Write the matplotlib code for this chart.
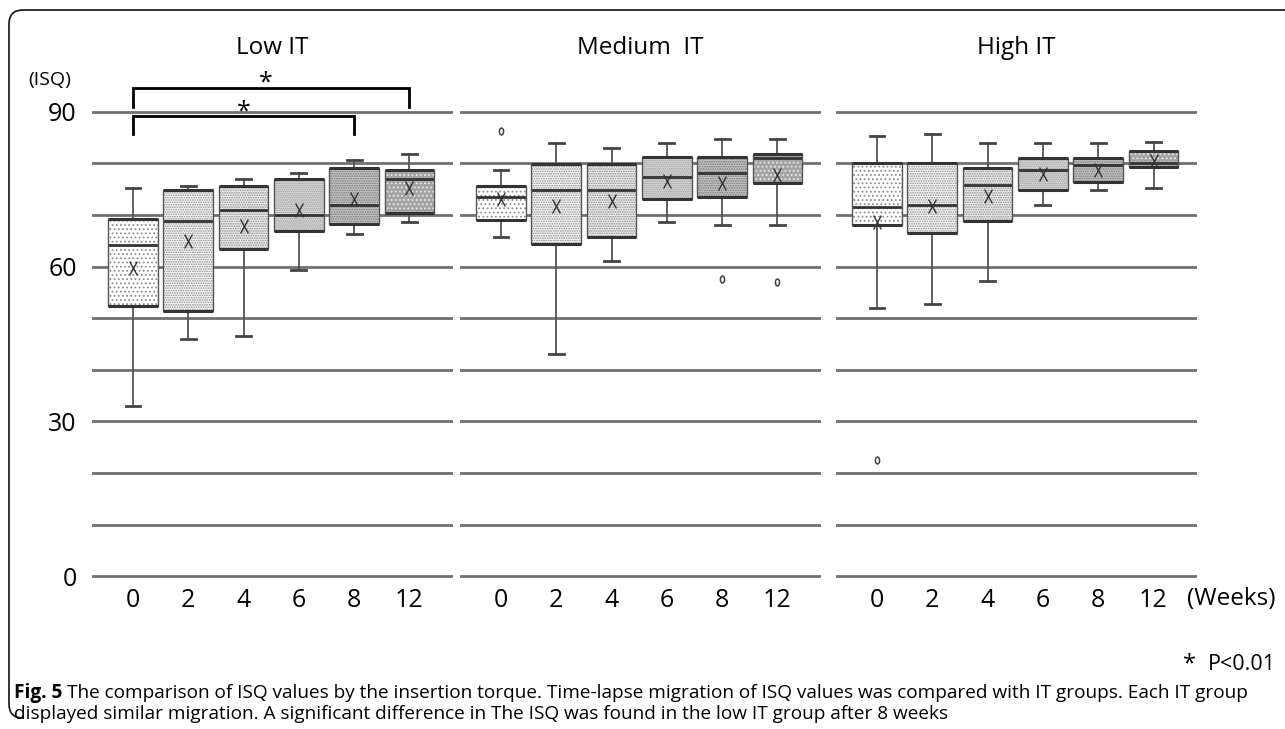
import matplotlib
matplotlib.use("Agg")
import matplotlib.pyplot as plt
from matplotlib.path import Path
from matplotlib.patches import PathPatch
from matplotlib.transforms import IdentityTransform, Affine2D

plt.rcParams['font.family'] = ['Open Sans', 'DejaVu Sans']
plt.rcParams['hatch.linewidth'] = 0.8

# ---- data -------------------------------------------------------------
weeks = ['0', '2', '4', '6', '8', '12']
groups = ['Low IT', 'Medium  IT', 'High IT']

low_q1 = [52.3, 51.5, 63.4, 67.0, 68.2, 70.3]
low_med = [64.1, 68.9, 71.0, 70.0, 71.9, 77.0]
low_q3 = [69.2, 74.8, 75.7, 77.0, 79.2, 78.7]
low_lo = [33.0, 46.0, 46.6, 59.4, 66.4, 68.7]
low_hi = [75.3, 75.6, 77.0, 78.2, 80.6, 81.8]
low_mean = [59.7, 65.0, 67.9, 71.0, 73.2, 75.3]
low_out = [[], [], [], [], [], []]

med_q1 = [69.0, 64.3, 65.8, 73.2, 73.5, 76.2]
med_med = [73.4, 74.9, 74.8, 77.4, 78.1, 81.0]
med_q3 = [75.7, 79.9, 79.9, 81.2, 81.2, 81.9]
med_lo = [65.8, 43.0, 61.1, 68.7, 68.1, 68.1]
med_hi = [78.7, 84.0, 82.9, 84.0, 84.8, 84.8]
med_mean = [73.2, 71.7, 72.8, 76.6, 76.2, 77.7]
med_out = [[86.3], [], [], [], [57.7], [57.0]]

high_q1 = [68.1, 66.6, 68.8, 74.9, 76.4, 79.3]
high_med = [71.6, 71.9, 75.9, 78.8, 79.7, 80.0]
high_q3 = [80.0, 80.0, 79.2, 81.0, 81.0, 82.4]
high_lo = [51.9, 52.8, 57.2, 71.9, 74.9, 75.3]
high_hi = [85.3, 85.7, 84.0, 84.0, 84.0, 84.2]
high_mean = [68.7, 71.7, 73.6, 78.0, 78.8, 80.4]
high_out = [[22.5], [], [], [], [], []]

y_ticks = [0, 10, 20, 30, 40, 50, 60, 70, 80, 90]
y_labels = ['0', '', '', '30', '', '', '60', '', '', '90']

# significance brackets in the low IT group: (from week index, to week index)
sig_pairs = [(0, 4), (0, 5)]

panels = [
    (low_q1, low_med, low_q3, low_lo, low_hi, low_mean, low_out),
    (med_q1, med_med, med_q3, med_lo, med_hi, med_mean, med_out),
    (high_q1, high_med, high_q3, high_lo, high_hi, high_mean, high_out),
]

# ---- styling ----------------------------------------------------------
box_face = ['#ffffff', '#f6f6f6', '#ececec', '#dadada', '#c2c2c2', '#a4a4a4']
box_hatch = ['....', '.......', '.......', '........', '.......', '....']
dot_color = ['#8c8c8c', '#8c8c8c', '#8c8c8c', '#9a9a9a', '#7a7a7a', '#e8e8e8']

mean_marker = Path([(-0.28, -0.5), (0.28, 0.5), (-0.28, 0.5), (0.28, -0.5)],
                   [Path.MOVETO, Path.LINETO, Path.MOVETO, Path.LINETO])
flier_marker = Path.unit_circle().transformed(Affine2D().scale(0.6, 1.0))

W, H = 1285, 729
fig = plt.figure(figsize=(W / 100, H / 100), dpi=100)

px_per_unit = (576.3 - 111.8) / 90.0
y_min, y_max = -1.0, 98.0
ax_bottom_px = 576.3 + (0 - y_min) * px_per_unit
ax_top_px = 111.8 - (y_max - 90) * px_per_unit

panel_left = [92, 460, 836]
panel_width = 361
spacing = 55.3
x_lo = -41.0 / spacing
x_hi = x_lo + panel_width / spacing

axes = []
for k, (q1, med, q3, lo, hi, mean, out) in enumerate(panels):
    ax = fig.add_axes([panel_left[k] / W, 1 - ax_bottom_px / H,
                       panel_width / W, (ax_bottom_px - ax_top_px) / H])
    axes.append(ax)
    ax.set_xlim(x_lo, x_hi)
    ax.set_ylim(y_min, y_max)
    for s in ax.spines.values():
        s.set_visible(False)
    ax.set_yticks(y_ticks)
    ax.yaxis.grid(True, color='#707070', linewidth=2.0)
    ax.set_axisbelow(True)
    if k == 0:
        ax.set_yticklabels(y_labels, fontsize=18)
    else:
        ax.set_yticklabels([])
    ax.tick_params(axis='y', length=0, pad=11)
    ax.set_xticks(range(len(weeks)))
    ax.set_xticklabels(weeks, fontsize=18)
    ax.tick_params(axis='x', length=0, pad=5)

    stats = []
    for i in range(len(weeks)):
        stats.append(dict(q1=q1[i], med=med[i], q3=q3[i], whislo=lo[i],
                          whishi=hi[i], mean=mean[i], fliers=out[i]))
    bp = ax.bxp(stats, positions=range(len(weeks)), widths=0.9,
                capwidths=0.27, patch_artist=True, showmeans=True,
                boxprops=dict(linewidth=0),
                whiskerprops=dict(color='#555555', linewidth=1.3),
                capprops=dict(color='#444444', linewidth=2.0),
                medianprops=dict(color='#333333', linewidth=2.0),
                meanprops=dict(marker=mean_marker, markersize=10,
                               markeredgecolor='#333333', markeredgewidth=1.0,
                               markerfacecolor='none', linestyle='none'),
                flierprops=dict(marker=flier_marker, markersize=5,
                                markeredgecolor='#444444', markeredgewidth=1.1,
                                markerfacecolor='none', linestyle='none'),
                manage_ticks=False)
    for i, patch in enumerate(bp['boxes']):
        patch.set_facecolor(box_face[i])
        patch.set_edgecolor(dot_color[i])
        patch.set_linewidth(0)
        patch.set_hatch(box_hatch[i])
        outline = PathPatch(patch.get_path(), transform=patch.get_transform(),
                            facecolor='none', edgecolor='#555555',
                            linewidth=1.0, zorder=patch.get_zorder() + 0.1)
        ax.add_patch(outline)
    # heavier top and bottom box edges
    pos = list(range(len(weeks)))
    ax.hlines(q1, [p - 0.45 for p in pos], [p + 0.45 for p in pos],
              colors='#333333', linewidth=2.2, zorder=2.5)
    ax.hlines(q3, [p - 0.45 for p in pos], [p + 0.45 for p in pos],
              colors='#333333', linewidth=2.2, zorder=2.5)

# significance brackets on the low IT panel
ax0 = axes[0]
bracket_levels = [(85.7, 89.2), (91.0, 94.6)]
star_pos = [(2.0, 87.6), (2.4, 93.1)]
for (a, b), (y0, y1), (sx, sy) in zip(sig_pairs, bracket_levels, star_pos):
    ax0.plot([a, a, b, b], [y0, y1, y1, y0], color='black', linewidth=2.0,
             solid_joinstyle='miter', clip_on=False)
    ax0.text(sx, sy, '*', ha='center', va='bottom', fontsize=18, clip_on=False)

# panel titles
for k, name in enumerate(groups):
    cx = (panel_left[k] + panel_width / 2) / W
    fig.text(cx, 1 - 48 / H, name, ha='center', va='center', fontsize=17.5)

fig.text(50 / W, 1 - 80 / H, '(ISQ)', ha='center', va='center', fontsize=14)
fig.text(1187 / W, 1 - 599 / H, '(Weeks)', ha='left', va='center', fontsize=17.5)
fig.text(1183 / W, 1 - 664 / H, '*', ha='left', va='center', fontsize=17)
fig.text(1276 / W, 1 - 664 / H, 'P<0.01', ha='right', va='center', fontsize=15.5)

# caption
cap_size = 13.7
t_bold = fig.text(14 / W, 1 - 693 / H, 'Fig. 5', ha='left', va='center',
                  fontsize=cap_size, fontweight='bold')
fig.canvas.draw()
bb = t_bold.get_window_extent()
fig.text((bb.x1 + 5) / W, 1 - 693 / H,
         'The comparison of ISQ values by the insertion torque. Time-lapse migration of '
         'ISQ values was compared with IT groups. Each IT group',
         ha='left', va='center', fontsize=cap_size)
fig.text(14 / W, 1 - 714 / H,
         'displayed similar migration. A significant difference in The ISQ was found in '
         'the low IT group after 8 weeks',
         ha='left', va='center', fontsize=cap_size)

# rounded frame on the top and left edges
r = 14
x0, ytop, ybot = 9, H - 10, 11
frame = Path([(W, ytop), (x0 + r, ytop), (x0, ytop), (x0, ytop - r),
              (x0, ybot + r), (x0, ybot), (x0 + r, ybot)],
             [Path.MOVETO, Path.LINETO, Path.CURVE3, Path.CURVE3,
              Path.LINETO, Path.CURVE3, Path.CURVE3])
fig.add_artist(PathPatch(frame, transform=IdentityTransform(), facecolor='none',
                         edgecolor='#222222', linewidth=1.3))

fig.savefig('out.png', dpi=100)
